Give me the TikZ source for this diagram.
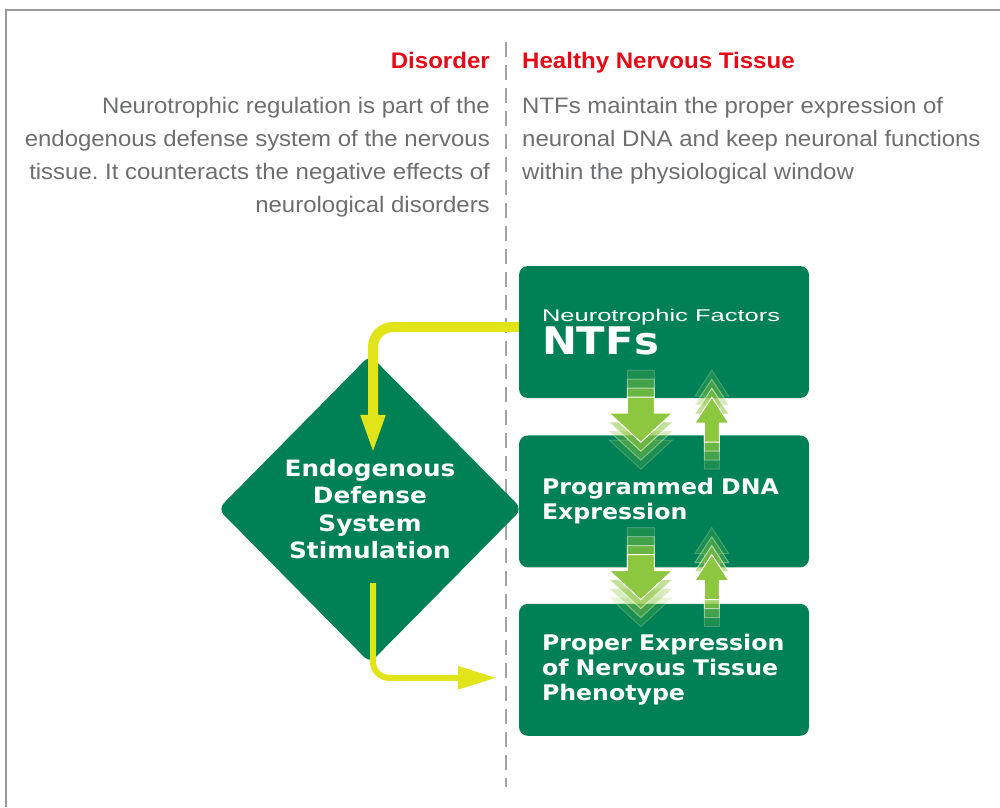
\documentclass[tikz,border=0pt]{standalone}
\usepackage{fontspec}
\setmainfont{Liberation Sans}
\newfontfamily\txtfont[FakeStretch=1.07]{Liberation Sans}
\newfontfamily\boxfont[FakeStretch=1.1]{DejaVu Sans}
\newfontfamily\thinfont[FakeStretch=1.5]{Liberation Sans}
\usetikzlibrary{arrows.meta, positioning, calc, shapes.geometric}
\frenchspacing
\definecolor{ntfgreen}{RGB}{0,128,85}
\definecolor{leafgreen}{RGB}{141,198,63}
\definecolor{signyellow}{RGB}{225,228,25}
\definecolor{headred}{RGB}{228,10,22}
\definecolor{bodygray}{RGB}{109,110,112}
\definecolor{rulegray}{RGB}{160,164,168}
\tikzset{frame/.style={draw=black!40,line width=1.5pt}}
\tikzset{divider/.style={draw=rulegray,line width=2.5pt,dash pattern=on 15pt off 8pt}}
\tikzset{heading/.style={inner sep=0pt,text=headred,font=\txtfont\bfseries\fontsize{22.5}{27}\selectfont}}
\tikzset{bodytext/.style={inner sep=0pt,text=bodygray,font=\txtfont\fontsize{22.4}{33}\selectfont}}
\tikzset{ntfbox/.style={fill=ntfgreen,rounded corners=9pt,text width=244pt,inner xsep=23pt,inner ysep=0pt,minimum height=132pt,align=left,text=white,font=\boxfont\bfseries\fontsize{21.5}{25}\selectfont}}
\tikzset{defense/.style={shape=diamond,fill=ntfgreen,rounded corners=8pt,minimum width=304pt,minimum height=308pt,inner sep=0pt,align=center,text=white,font=\boxfont\bfseries\fontsize{22.5}{27.5}\selectfont}}
\tikzset{signal/.style={draw=signyellow,line width=10pt,rounded corners=20pt,-{Triangle[length=40pt,width=22pt]}}}
\tikzset{ghost/.style={fill=leafgreen,draw=white,line width=1pt}}
\newcommand\ghostdown[1]{%
  \foreach \k/\o in {3/0.2,2/0.35,1/0.55,0/1}{
    \filldraw[ghost,fill opacity=\o,draw opacity=\o,shift={(#1)}]
      (-13.5,-9*\k) -- (13.5,-9*\k) -- (13.5,16+9*\k) -- (31.5,16+9*\k)
      -- (0,45+9*\k) -- (-31.5,16+9*\k) -- (-13.5,16+9*\k) -- cycle;
  }}
\newcommand\ghostup[1]{%
  \foreach \k/\o in {3/0.2,2/0.35,1/0.55,0/1}{
    \filldraw[ghost,fill opacity=\o,draw opacity=\o,shift={(#1)}]
      (0,-9*\k) -- (17,26-9*\k) -- (7.5,26-9*\k) -- (7.5,45+9*\k)
      -- (-7.5,45+9*\k) -- (-7.5,26-9*\k) -- (-17,26-9*\k) -- cycle;
  }}
\begin{document}
\begin{tikzpicture}[x=1pt,y=-1pt,node distance=37pt]
\useasboundingbox (0,0) rectangle (1000,807);
\draw[frame] (6,807) -- (6,10) -- (1000,10);
\draw[divider] (506,42) -- (506,787);

\node[heading,anchor=base east] (disorder) at (490,68) {Disorder};
\node[heading,anchor=base west] (healthy) at (522,68) {Healthy Nervous Tissue};
\node[bodytext,anchor=north east,align=right] (disordernote) at (490,97) {Neurotrophic regulation is part of the\\endogenous defense system of the nervous\\tissue. It counteracts the negative effects of\\neurological disorders};
\node[bodytext,anchor=north west,align=left] (healthynote) at (522,97) {NTFs maintain the proper expression of\\neuronal DNA and keep neuronal functions\\within the physiological window};

\node[defense] (eds) at (370,509) {Endogenous\\Defense\\System\\Stimulation};
\node[ntfbox] (ntf) at (664,332) {{\thinfont\mdseries\fontsize{17}{20}\selectfont Neurotrophic~Factors}\\[1pt]{\fontsize{38}{34}\selectfont NTFs}};
\node[ntfbox,below=of ntf] (dna) {Programmed~DNA\\Expression};
\node[ntfbox,below=36pt of dna] (pheno) {Proper~Expression\\of~Nervous~Tissue\\Phenotype};

\coordinate (down1) at ($(ntf.south west)+(122,-1)$);
\coordinate (up1) at ($(ntf.south west)+(193,-1)$);
\coordinate (down2) at ($(dna.south west)+(122,-13)$);
\coordinate (up2) at ($(dna.south west)+(193,-13)$);
\ghostdown{down1}
\ghostup{up1}
\ghostdown{down2}
\ghostup{up2}

\coordinate (intip) at ($(eds.north)+(3,100)$);
\coordinate (outstart) at ($(eds.south)+(3,-80)$);
\coordinate (outtip) at ($(pheno.west)+(-22,8)$);
\draw[signal] ([yshift=5pt]ntf.west) -| (intip);
\draw[signal,line width=6pt,rounded corners=16pt,-{Triangle[length=39pt,width=22pt]}] (outstart) |- (outtip);
\end{tikzpicture}
\end{document}
